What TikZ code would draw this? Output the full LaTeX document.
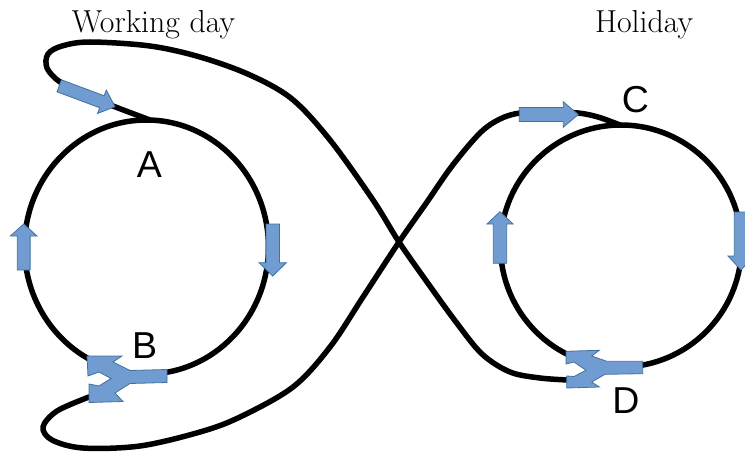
\documentclass[tikz,border=0pt]{standalone}
\usepackage{fontspec}
\newfontfamily\labelfont{Liberation Sans}
\definecolor{arrowfill}{RGB}{112,156,209}
\definecolor{arrowedge}{RGB}{65,113,156}
\tikzset{
  curve/.style={line width=5.5pt, line cap=round, line join=round},
  blockarrow/.style={fill=arrowfill, draw=arrowedge, line width=0.8pt, line join=miter},
  title/.style={font=\fontsize{31.8}{34}\selectfont, anchor=base, inner sep=0pt},
  letter/.style={font=\labelfont\fontsize{37.5}{40}\selectfont, anchor=base, inner sep=0pt},
}
% x, y, angle, length, half shaft width, half head width, head length
\newcommand{\blockarr}[7]{%
  \begin{scope}[shift={(#1,#2)},rotate=#3]
    \filldraw[blockarrow] (0,-#5) -- ({#4-#7},-#5) -- ({#4-#7},-#6) -- (#4,0)
      -- ({#4-#7},#6) -- ({#4-#7},#5) -- (0,#5) -- cycle;
  \end{scope}}
\begin{document}
\begin{tikzpicture}[x=1pt,y=-1pt]
\useasboundingbox (0,0) rectangle (745,452);
\clip (0,0) rectangle (745,452);
% tangent points
\coordinate (tA) at (150,120);
\coordinate (tB) at (89,397);
\coordinate (tC) at (620,125);
\coordinate (tD) at (568,380);
\coordinate (X) at (399,242);
% circles
\draw[curve] (146.5,247) ellipse [x radius=122, y radius=127];
\draw[curve] (621,246) ellipse [x radius=120.5, y radius=121];
% figure-eight curve
\draw[curve] plot[smooth, tension=0.55] coordinates {(tA) (113,106) (85,94) (60,82) (47,68) (48,54) (62,46) (90,42) (150,46) (200,57) (250,75) (292,99) (330,140) (373,200) (X) (427,282) (456,322) (482,354) (510,372) (540,378) (tD)};
\draw[curve] plot[smooth, tension=0.55] coordinates {(tC) (598,117) (578,113) (550,112) (520,113) (500,119) (480,133) (452,166) (427,202) (X) (363,297) (330,347) (293,387) (240,417) (200,432) (140,446) (83,448) (52,440) (43,427) (57,411) (tB)};
% block arrows
\blockarr{59.2}{85.8}{-20.5}{59.6}{6.4}{12.5}{14}
\blockarr{519.3}{114.5}{0}{59}{7}{12.7}{15}
\blockarr{23.7}{270}{90}{46}{6.4}{13.3}{12}
\blockarr{272.7}{224}{-90}{52}{6.7}{13.7}{13.3}
\blockarr{500}{263.3}{90}{51.6}{6.7}{13}{12.3}
\blockarr{741}{212}{-90}{58}{6.7}{13}{14}
% merge arrows
\filldraw[blockarrow] (87,356) -- (122,356) -- (113,362) -- (130,370.5) -- (167,369.5) -- (167,382.5) -- (130,383.5) -- (115,393) -- (123,401.5) -- (89,402.5) -- (89,384) -- (99,386) -- (111,378.5) -- (99,372) -- (88,376) -- cycle;
\filldraw[blockarrow] (566,351.3) -- (599.3,350.3) -- (591.7,356) -- (606.7,361.3) -- (642.7,361.3) -- (642.7,373.7) -- (605,374.3) -- (591.7,382) -- (599.3,387) -- (566.7,388) -- (566.7,376) -- (574,376.5) -- (586,370.3) -- (574,362) -- (566,364) -- cycle;
% labels
\node[title] (wd) at (153.5,32.3) {Working day};
\node[title] (hd) at (644,32.3) {Holiday};
\node[letter] (A) at (149.5,177) {A};
\node[letter] (B) at (144.7,358) {B};
\node[letter] (C) at (635.5,112.5) {C};
\node[letter] (D) at (626,413) {D};
\end{tikzpicture}
\end{document}
